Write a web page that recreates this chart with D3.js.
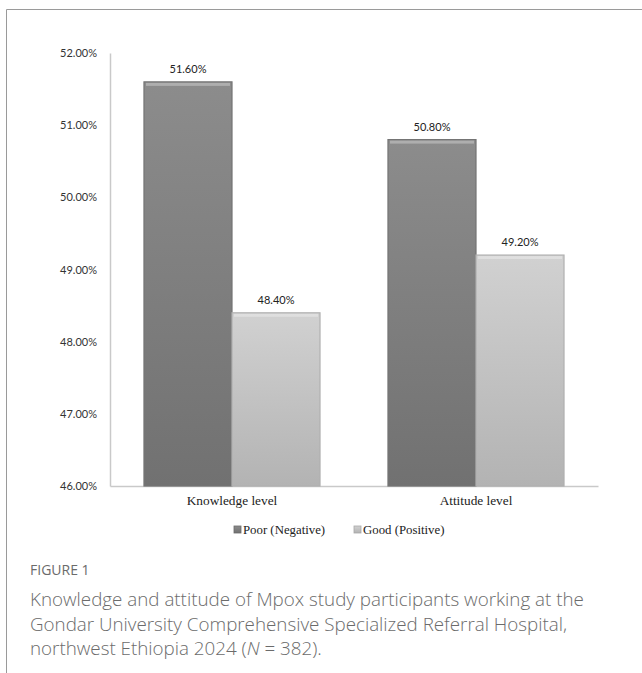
<!DOCTYPE html>
<html>
<head>
<meta charset="utf-8">
<script src="https://cdn.jsdelivr.net/npm/d3@7"></script>
<style>
  body { margin: 0; background: #fff; }
  svg { display: block; }
</style>
</head>
<body>
<div id="chart"></div>
<script>
// chart data
var categories = ["Knowledge level", "Attitude level"];
var seriesNames = ["Poor (Negative)", "Good (Positive)"];
var poorValues = [51.6, 50.8];
var goodValues = [48.4, 49.2];
var yTicks = [46, 47, 48, 49, 50, 51, 52];
var captionLines = [
  "Knowledge and attitude of Mpox study participants working at the",
  "Gondar University Comprehensive Specialized Referral Hospital,",
  "northwest Ethiopia 2024 ("
];

var W = 642, H = 673;
var margin = {top: 53, left: 110, right: 44, bottom: 187};
var width = W - margin.left - margin.right;
var height = H - margin.top - margin.bottom;

var svg = d3.select("#chart").append("svg")
    .attr("width", W)
    .attr("height", H);

// gradients for the bevelled bars
var defs = svg.append("defs");
var fills = [["poorGrad", "#8c8c8c", "#717171"], ["goodGrad", "#d1d1d1", "#b3b3b3"]];
fills.forEach(function(f) {
  var g = defs.append("linearGradient").attr("id", f[0])
      .attr("x1", 0).attr("y1", 0).attr("x2", 0).attr("y2", 1);
  g.append("stop").attr("offset", "0%").attr("stop-color", f[1]);
  g.append("stop").attr("offset", "100%").attr("stop-color", f[2]);
});

// frame of the figure panel
svg.append("path")
    .attr("d", "M6.5," + H + "V9.5H" + W)
    .style("fill", "none")
    .style("stroke", "#9a9a9a")
    .style("stroke-width", 1);

var plot = svg.append("g")
    .attr("transform", "translate(" + margin.left + "," + margin.top + ")");

var x0 = d3.scaleBand().domain(categories).range([0, width]).paddingInner(0).paddingOuter(0);
var x1 = d3.scaleBand().domain(seriesNames).range([0, x0.bandwidth()]).paddingInner(0).paddingOuter(0.386);
var y = d3.scaleLinear().domain([46, 52]).range([height, 0]);

// y axis
var yAxis = plot.append("g")
    .call(d3.axisLeft(y).tickValues(yTicks).tickSize(0).tickPadding(13)
      .tickFormat(function(d) { return d3.format(".2f")(d) + "%"; }));
yAxis.select(".domain").style("stroke", "#c9c9c9").style("stroke-width", 1.5);
yAxis.selectAll("text")
    .style("font-family", "Lato, 'Open Sans', sans-serif")
    .style("font-size", "11px")
    .style("fill", "#333");

// x axis
var xAxis = plot.append("g")
    .attr("transform", "translate(0," + height + ")")
    .call(d3.axisBottom(x0).tickSize(0).tickPadding(10));
xAxis.select(".domain").style("stroke", "#c9c9c9").style("stroke-width", 1.5);
xAxis.selectAll("text")
    .style("font-family", "'Liberation Serif', 'Times New Roman', serif")
    .style("font-size", "13.3px")
    .style("fill", "#222");

var rows = categories.map(function(c, i) {
  return [{cat: c, s: seriesNames[0], v: poorValues[i], grad: "poorGrad", edge: "#747474"},
          {cat: c, s: seriesNames[1], v: goodValues[i], grad: "goodGrad", edge: "#b0b0b0"}];
});

var groups = plot.selectAll(".group")
    .data(rows)
  .enter().append("g")
    .attr("class", "group")
    .attr("transform", function(d) { return "translate(" + x0(d[0].cat) + ",0)"; });

var bars = groups.selectAll(".bar")
    .data(function(d) { return d; })
  .enter().append("g")
    .attr("class", "bar");

bars.append("rect")
    .attr("x", function(d) { return x1(d.s); })
    .attr("y", function(d) { return y(d.v); })
    .attr("width", x1.bandwidth())
    .attr("height", function(d) { return height - y(d.v); })
    .style("fill", function(d) { return "url(#" + d.grad + ")"; })
    .style("stroke", function(d) { return d.edge; })
    .style("stroke-width", 1.2);

// top bevel highlight
bars.append("rect")
    .attr("x", function(d) { return x1(d.s) + 2; })
    .attr("y", function(d) { return y(d.v) + 1; })
    .attr("width", x1.bandwidth() - 4)
    .attr("height", 3)
    .style("fill", "#fff")
    .style("opacity", 0.3);

bars.append("text")
    .attr("x", function(d) { return x1(d.s) + x1.bandwidth() / 2; })
    .attr("y", function(d) { return y(d.v) - 9; })
    .attr("text-anchor", "middle")
    .style("font-family", "Lato, 'Open Sans', sans-serif")
    .style("font-size", "11px")
    .style("fill", "#222")
    .text(function(d) { return d3.format(".2f")(d.v) + "%"; });

// legend
var legend = svg.append("g")
    .attr("transform", "translate(234," + (margin.top + height + 48) + ")");
var legendX = [0, 120];
seriesNames.forEach(function(s, i) {
  var item = legend.append("g").attr("transform", "translate(" + legendX[i] + ",0)");
  item.append("rect")
      .attr("x", 0).attr("y", -8)
      .attr("width", 7).attr("height", 7)
      .style("fill", "url(#" + fills[i][0] + ")")
      .style("stroke", i === 0 ? "#6a6a6a" : "#a8a8a8")
      .style("stroke-width", 0.8);
  item.append("text")
      .attr("x", 9).attr("y", 0)
      .style("font-family", "'Liberation Serif', 'Times New Roman', serif")
      .style("font-size", "12.8px")
      .style("fill", "#222")
      .text(s);
});

// caption
svg.append("text")
    .attr("x", 30).attr("y", 575)
    .style("font-family", "'Open Sans', 'Noto Sans', sans-serif")
    .style("font-size", "14px")
    .style("fill", "#6b6b6b")
    .text("FIGURE 1");

var cap = svg.append("g")
    .style("font-family", "'Open Sans', 'Noto Sans', sans-serif")
    .style("font-size", "18.8px")
    .style("font-weight", 300)
    .style("fill", "#6b6b6b");
captionLines.forEach(function(line, i) {
  var t = cap.append("text")
      .attr("x", 30).attr("y", 606 + i * 24.5)
      .text(line);
  if (i === captionLines.length - 1) {
    t.append("tspan").style("font-style", "italic").text("N");
    t.append("tspan").text(" = 382).");
  }
});
</script>
</body>
</html>
